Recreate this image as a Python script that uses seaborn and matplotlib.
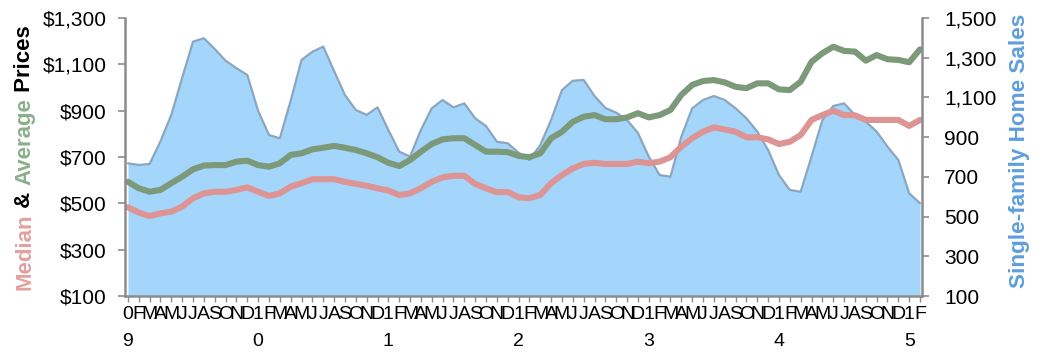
import numpy as np
import pandas as pd
import seaborn as sns
import matplotlib
matplotlib.use("Agg")
import matplotlib.pyplot as plt
from matplotlib import font_manager as fm

# ---------------- data ----------------
years = ["09", "10", "11", "12", "13", "14", "15"]
month_letters = ["J", "F", "M", "A", "M", "J", "J", "A", "S", "O", "N", "D"]

home_sales = [768, 760, 765, 879, 1012, 1199, 1381, 1398, 1344, 1285, 1247, 1213,
              1032, 911, 894, 1084, 1289, 1330, 1356, 1233, 1112, 1037, 1012, 1050,
              936, 827, 802, 936, 1045, 1087, 1050, 1070, 995, 956, 877, 869,
              822, 785, 860, 986, 1137, 1184, 1188, 1107, 1047, 1023, 986, 921,
              802, 709, 701, 902, 1045, 1087, 1107, 1087, 1045, 995, 928, 835,
              709, 634, 625, 802, 986, 1057, 1070, 1012, 978, 928, 852, 785,
              617, 567]

average_price = [593, 565, 550, 558, 587, 615, 647, 663, 665, 665, 680, 684,
                 665, 658, 673, 709, 716, 733, 740, 748, 740, 730, 716, 699,
                 675, 661, 687, 723, 756, 776, 781, 781, 752, 723, 723, 721,
                 705, 699, 716, 781, 809, 852, 874, 881, 863, 863, 871, 889,
                 871, 881, 903, 968, 1011, 1028, 1032, 1022, 1003, 997, 1018, 1018,
                 992, 989, 1025, 1111, 1148, 1176, 1158, 1155, 1116, 1140, 1122, 1119,
                 1109, 1165]

median_price = [483, 460, 445, 457, 464, 486, 522, 543, 550, 550, 558, 569,
                550, 532, 543, 572, 587, 604, 604, 604, 593, 584, 576, 565,
                555, 536, 543, 565, 593, 612, 619, 619, 584, 565, 548, 549,
                526, 522, 536, 587, 622, 651, 670, 675, 670, 670, 670, 680,
                673, 680, 699, 745, 781, 809, 828, 819, 809, 785, 785, 776,
                756, 766, 795, 860, 881, 900, 881, 880, 860, 860, 860, 860,
                834, 860]

price_ticks = [100, 300, 500, 700, 900, 1100, 1300]
sales_ticks = [100, 300, 500, 700, 900, 1100, 1300, 1500]

# ---------------- style ----------------
sns.set_theme(style="white")


def has_font(name):
    try:
        fm.findfont(fm.FontProperties(family=name), fallback_to_default=False)
        return True
    except Exception:
        return False


base = "Liberation Sans" if has_font("Liberation Sans") else "DejaVu Sans"
narrow = "Liberation Sans Narrow" if has_font("Liberation Sans Narrow") else base
plt.rcParams["font.family"] = [base, "DejaVu Sans"]

GREEN = "#7C9A7A"
RED = "#DC9494"
AREA = "#A4D6FC"
AREA_EDGE = "#8AA6C0"
AXIS = "#8C8C8C"

n = len(home_sales)
idx = np.arange(n)
labels = []
for i in range(n):
    m = i % 12
    if m == 0:
        yy = years[i // 12]
        labels.append(f"{yy[0]}\n{yy[1]}")
    else:
        labels.append(month_letters[m])

df = pd.DataFrame({"idx": idx, "sales": home_sales,
                   "avg": average_price, "med": median_price})

W, H = 1039, 353
fig = plt.figure(figsize=(W / 100, H / 100), dpi=100)
L, R, T, B = 125, 922, 18, 296
ax = fig.add_axes([L / W, 1 - B / H, (R - L) / W, (B - T) / H])
ax2 = ax.twinx()

# area on secondary axis (behind)
ax2.fill_between(df["idx"], df["sales"], 100, color=AREA, lw=0, zorder=1)
sns.lineplot(data=df, x="idx", y="sales", ax=ax2, color=AREA_EDGE, lw=1.6, zorder=2)
ax2.set_ylim(100, 1500)
ax2.set_yticks(sales_ticks)
ax2.set_yticklabels([f"{v:,}" for v in sales_ticks])
ax2.set_ylabel("")

# price lines on primary axis (front)
ax.set_zorder(ax2.get_zorder() + 1)
ax.patch.set_visible(False)
sns.lineplot(data=df, x="idx", y="avg", ax=ax, color=GREEN, lw=4.4,
             solid_capstyle="round", solid_joinstyle="round")
sns.lineplot(data=df, x="idx", y="med", ax=ax, color=RED, lw=4.4,
             solid_capstyle="round", solid_joinstyle="round")
ax.set_ylim(100, 1300)
ax.set_yticks(price_ticks)
ax.set_yticklabels([f"${v:,}" for v in price_ticks])
ax.set_xlim(-0.27, n - 1 + 0.18)
ax.set_xticks(idx)
ax.set_xticklabels(labels, fontsize=14, linespacing=1.8, family=narrow)
ax.set_xlabel("")
ax.set_ylabel("")

for a in (ax, ax2):
    for s in a.spines.values():
        s.set_visible(False)
for s in ("left", "bottom", "right"):
    ax.spines[s].set_visible(True)
    ax.spines[s].set_color(AXIS)
    ax.spines[s].set_linewidth(1.8)

ax.tick_params(axis="y", which="major", left=True, direction="out", length=5,
               width=1.2, color=AXIS, labelsize=15, pad=8, labelcolor="black")
ax.tick_params(axis="x", which="major", bottom=True, direction="out", length=4,
               width=1.0, color=AXIS, pad=3, labelcolor="black")
ax2.tick_params(axis="y", which="major", right=True, direction="out", length=5,
                width=1.2, color=AXIS, labelsize=15, pad=11, labelcolor="black")

# multi-coloured left axis title
fig.canvas.draw()
renderer = fig.canvas.get_renderer()
parts = [("Median", "#E3A0A0"), (" & ", "#000000"),
         ("Average", "#8AB08A"), (" Prices", "#000000")]
x_base = 30
y_cur = H - 290
for txt, col in parts:
    t = fig.text(x_base / W, y_cur / H, txt, rotation=90, rotation_mode="anchor",
                 ha="left", va="baseline", color=col, fontsize=16,
                 fontweight="bold")
    ext = t.get_window_extent(renderer)
    y_cur += ext.height

fig.text(1025 / W, (H - 288) / H, "Single-family Home Sales", rotation=90,
         rotation_mode="anchor", ha="left", va="baseline", color="#5E9EDB",
         fontsize=16.2, fontweight="bold")

fig.savefig("out.png", dpi=100)
